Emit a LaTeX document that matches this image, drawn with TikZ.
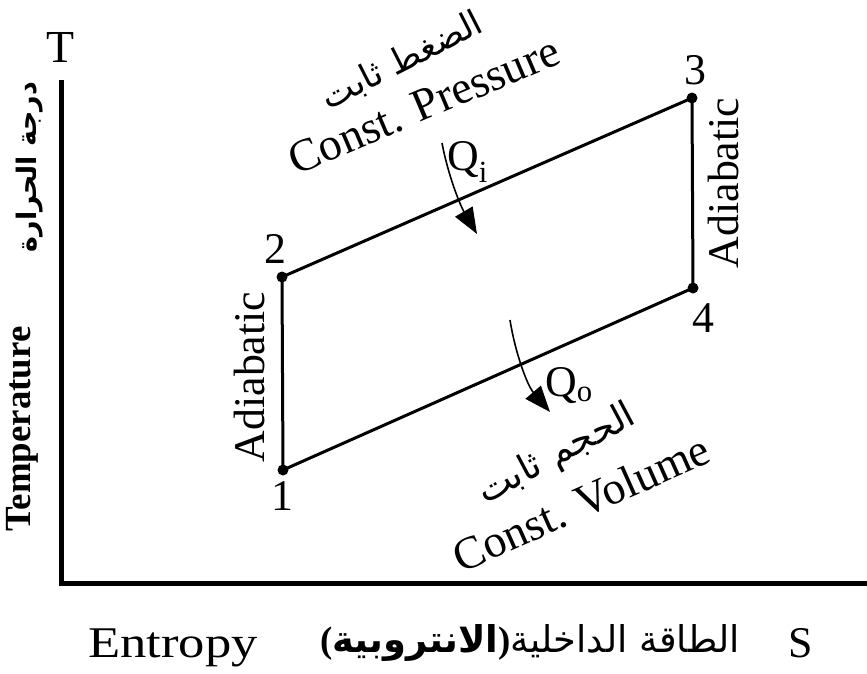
\documentclass[tikz,border=0pt]{standalone}
\usepackage{fontspec}
\setmainfont{Liberation Serif}
\newfontfamily\arabicfont[Script=Arabic]{DejaVu Sans}
\TeXXeTstate=1
\usetikzlibrary{arrows.meta}
\begin{document}
\begin{tikzpicture}[x=1bp,y=-1bp,
  txt/.style={inner sep=0pt, font=\fontsize{44}{48}\selectfont},
  bigtxt/.style={inner sep=0pt, font=\fontsize{46}{50}\selectfont},
  artxt/.style={inner sep=0pt, font=\arabicfont\fontsize{37}{40}\selectfont},
  dotnode/.style={circle, fill=black, inner sep=0pt, minimum size=11bp},
  axisline/.style={line width=5bp},
  cycleline/.style={line width=3bp, line join=round},
  heatarrow/.style={line width=1.6bp, -{Triangle[length=26bp,width=20bp]}}]
\useasboundingbox (0,0) rectangle (867,674);
% axes
\coordinate (ytop) at (61,80);
\coordinate (origin) at (61,583);
\coordinate (xend) at (867,583);
\draw[axisline] (ytop) -- (origin) -- (xend);
% cycle points
\node[dotnode] (p1) at (283,470) {};
\node[dotnode] (p2) at (282,277) {};
\node[dotnode] (p3) at (692,98) {};
\node[dotnode] (p4) at (693,288) {};
\draw[cycleline] (p1.center) -- (p2.center) -- (p3.center) -- (p4.center) -- cycle;
% point labels
\node[txt] (n1) at (282,496) {1};
\node[txt] (n2) at (275,249) {2};
\node[txt] (n3) at (695,70) {3};
\node[txt] (n4) at (703,318) {4};
% adiabatic labels
\node[txt, rotate=90] (ad1) at (250,377) {Adiabatic};
\node[txt, rotate=90] (ad2) at (723,183) {Adiabatic};
% axis labels
\node[bigtxt] (tlab) at (60,47) {T};
\node[txt, anchor=base] (slab) at (801,657) {S};
\node[txt, anchor=base west] (entropy) at (88,657) {\scalebox{1.2}[1]{Entropy}};
\node[artxt, anchor=base east] (arx) at (740,652) {{\rmfamily\bfseries(}{\bfseries\beginR الانتروبية\endR}{\rmfamily\bfseries)}\beginR الطاقة الداخلية\endR};
\node[inner sep=0pt, rotate=90, font=\bfseries\fontsize{37}{40}\selectfont] (temp) at (22,429) {Temperature};
\node[inner sep=0pt, rotate=90, font=\arabicfont\bfseries\fontsize{27}{30}\selectfont] (ary) at (30,167) {\beginR درجة الحرارة\endR};
% process labels
\node[bigtxt, rotate=23] (cp) at (424,105) {Const. Pressure};
\node[artxt, rotate=27, font=\arabicfont\fontsize{35}{38}\selectfont] (cpar) at (402,61) {\beginR الضغط ثابت\endR};
\node[bigtxt, rotate=24] (cv) at (581,503) {Const. Volume};
\node[artxt, rotate=28] (cvar) at (557,455) {\beginR الحجم ثابت\endR};
% heat arrows
\coordinate (qis) at (442,143);
\coordinate (qie) at (477,234);
\draw[heatarrow] (qis) .. controls (448,175) and (460,205) .. (qie);
\node[txt, anchor=base west] (qi) at (447,171) {Q\textsubscript{i}};
\coordinate (qos) at (510,320);
\coordinate (qoe) at (550,412);
\draw[heatarrow] (qos) .. controls (515,352) and (527,385) .. (qoe);
\node[txt, anchor=base west] (qo) at (545,396) {Q\textsubscript{o}};
\end{tikzpicture}
\end{document}
